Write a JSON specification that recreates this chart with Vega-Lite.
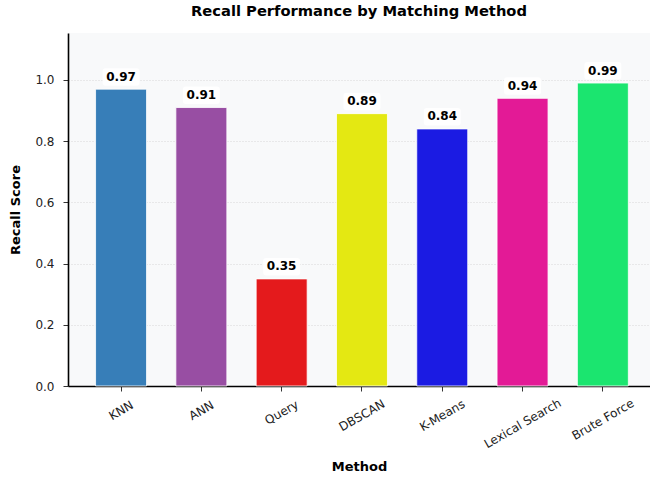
{
  "$schema": "https://vega.github.io/schema/vega-lite/v6.json",
  "width": 582,
  "height": 353,
  "autosize": {"type": "none"},
  "padding": {"left": 68, "top": 33, "right": 0, "bottom": 93},
  "background": "white",
  "config": {
    "view": {"fill": "#f8f9fa", "stroke": null},
    "font": "DejaVu Sans",
    "axis": {"labelFont": "DejaVu Sans", "titleFont": "DejaVu Sans"}
  },
  "title": {
    "text": "Recall Performance by Matching Method",
    "fontSize": 14.7,
    "fontWeight": "bold",
    "font": "DejaVu Sans",
    "anchor": "middle",
    "offset": 14,
    "color": "black"
  },
  "data": {
    "values": [
      {"method": "KNN", "recall": 0.97},
      {"method": "ANN", "recall": 0.91},
      {"method": "Query", "recall": 0.35},
      {"method": "DBSCAN", "recall": 0.89},
      {"method": "K-Means", "recall": 0.84},
      {"method": "Lexical Search", "recall": 0.94},
      {"method": "Brute Force", "recall": 0.99}
    ]
  },
  "encoding": {
    "x": {
      "field": "method",
      "type": "nominal",
      "sort": null,
      "scale": {"paddingInner": 0.365, "paddingOuter": 0.3065, "align": 0.56},
      "axis": {
        "title": "Method",
        "titleFontSize": 13,
        "titleFontWeight": "bold",
        "titleColor": "black",
        "titlePadding": 11,
        "labelAngle": -30,
        "labelAlign": "center",
        "labelBaseline": "middle",
        "labelFontSize": 12,
        "labelColor": "#222222",
        "labelPadding": {
          "condition": [
            {"test": "datum.value === 'Query'", "value": 21},
            {"test": "datum.value === 'DBSCAN' || datum.value === 'K-Means'", "value": 24},
            {"test": "datum.value === 'Lexical Search'", "value": 32},
            {"test": "datum.value === 'Brute Force'", "value": 28}
          ],
          "value": 19
        },
        "tickColor": "#333333",
        "tickSize": 5,
        "domainColor": "black",
        "domainWidth": 1.6,
        "grid": false
      }
    },
    "y": {
      "field": "recall",
      "type": "quantitative",
      "scale": {"domain": [0, 1.1535], "nice": false, "zero": true},
      "axis": {
        "title": "Recall Score",
        "titleFontSize": 13,
        "titleFontWeight": "bold",
        "titleColor": "black",
        "titlePadding": 12,
        "values": [0, 0.2, 0.4, 0.6, 0.8, 1.0],
        "format": ".1f",
        "labelFontSize": 12,
        "labelColor": "#222222",
        "labelPadding": 9,
        "tickColor": "#333333",
        "tickSize": 5,
        "domainColor": "black",
        "domainWidth": 1.6,
        "grid": true,
        "gridColor": "#cfcfcf",
        "gridDash": [1, 2],
        "gridWidth": 0.8
      }
    }
  },
  "layer": [
    {
      "mark": {"type": "bar", "stroke": "white", "strokeWidth": 0.8},
      "encoding": {
        "color": {
          "field": "method",
          "type": "nominal",
          "scale": {
            "domain": ["KNN", "ANN", "Query", "DBSCAN", "K-Means", "Lexical Search", "Brute Force"],
            "range": ["#377eb8", "#984ea3", "#e41a1c", "#e4e812", "#1b1be3", "#e31a96", "#1be56f"]
          },
          "legend": null
        }
      }
    },
    {
      "mark": {
        "type": "point",
        "shape": "M-1.55,-2.1H1.55Q1.85,-2.1 1.85,-1.8V-0.65Q1.85,-0.35 1.55,-0.35H-1.55Q-1.85,-0.35 -1.85,-0.65V-1.8Q-1.85,-2.1 -1.55,-2.1Z",
        "size": 400,
        "filled": true,
        "fill": "white",
        "strokeWidth": 0,
        "opacity": 0.95
      },
      "encoding": {}
    },
    {
      "mark": {
        "type": "text",
        "baseline": "middle",
        "dy": -12.5,
        "fontSize": 12,
        "fontWeight": "bold",
        "color": "black"
      },
      "encoding": {
        "text": {"field": "recall", "type": "quantitative", "format": ".2f"}
      }
    }
  ]
}
